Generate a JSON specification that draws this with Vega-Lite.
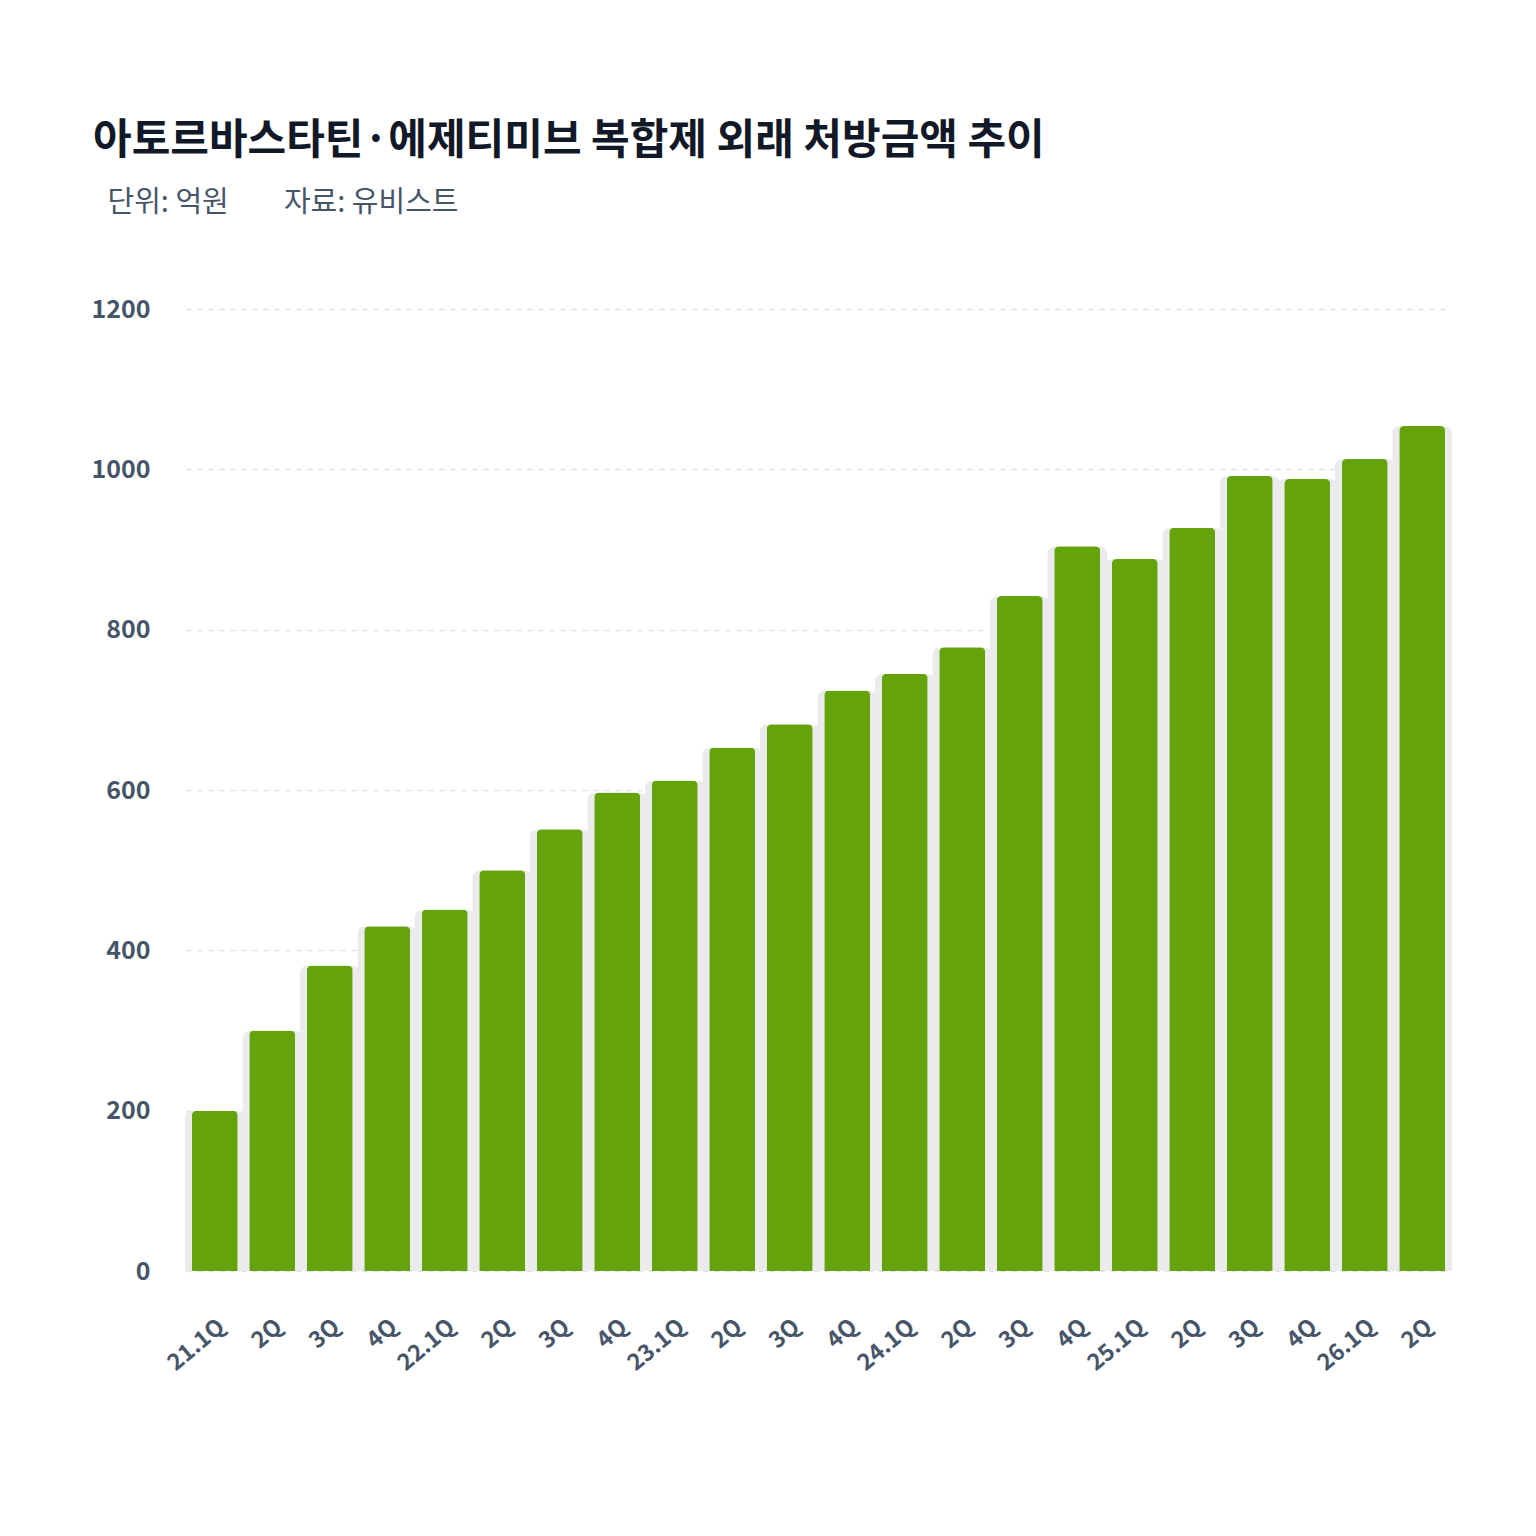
{
  "$schema": "https://vega.github.io/schema/vega-lite/v6.json",
  "width": 1265,
  "height": 962,
  "padding": {"left": 90, "top": 120, "right": 60, "bottom": 20},
  "background": "#ffffff",
  "title": {
    "text": "아토르바스타틴·에제티미브 복합제 외래 처방금액 추이",
    "subtitle": "\u200b\u2002단위: 억원\u3000\u2002\u2009\u2009자료: 유비스트",
    "anchor": "start",
    "frame": "bounds",
    "font": "Noto Sans CJK KR",
    "fontSize": 42,
    "fontWeight": "bold",
    "color": "#111827",
    "subtitleFont": "Noto Sans CJK KR",
    "subtitleFontSize": 29,
    "subtitleColor": "#475569",
    "subtitlePadding": 26,
    "offset": 78,
    "dx": 2
  },
  "data": {
    "values": [
      {"q": "21.1Q", "v": 200},
      {"q": "2Q ", "v": 300},
      {"q": "3Q ", "v": 381},
      {"q": "4Q ", "v": 430},
      {"q": "22.1Q", "v": 451},
      {"q": "2Q  ", "v": 500},
      {"q": "3Q  ", "v": 551},
      {"q": "4Q  ", "v": 597},
      {"q": "23.1Q", "v": 612},
      {"q": "2Q   ", "v": 653},
      {"q": "3Q   ", "v": 682},
      {"q": "4Q   ", "v": 724},
      {"q": "24.1Q", "v": 745},
      {"q": "2Q    ", "v": 778},
      {"q": "3Q    ", "v": 842},
      {"q": "4Q    ", "v": 904},
      {"q": "25.1Q", "v": 888},
      {"q": "2Q     ", "v": 927},
      {"q": "3Q     ", "v": 992},
      {"q": "4Q     ", "v": 988},
      {"q": "26.1Q", "v": 1013},
      {"q": "2Q      ", "v": 1054}
    ]
  },
  "encoding": {
    "x": {
      "field": "q",
      "type": "nominal",
      "sort": null,
      "title": null,
      "scale": {"paddingInner": 0.2, "paddingOuter": 0.1},
      "axis": {
        "labelAngle": -40,
        "labelFont": "Noto Sans CJK KR",
        "labelFontSize": 23,
        "labelFontWeight": "bold",
        "labelColor": "#475569",
        "labelPadding": 44,
        "ticks": false,
        "domain": false,
        "grid": false
      }
    },
    "y": {
      "field": "v",
      "type": "quantitative",
      "title": null,
      "scale": {"domain": [0, 1200]},
      "axis": {
        "values": [0, 200, 400, 600, 800, 1000, 1200],
        "format": "d",
        "labelFont": "Noto Sans CJK KR",
        "labelFontSize": 25,
        "labelFontWeight": "bold",
        "labelColor": "#475569",
        "labelPadding": 36,
        "ticks": false,
        "domain": false,
        "grid": true,
        "gridColor": "#dde2ea",
        "gridDash": [5, 6],
        "gridWidth": 1.5
      }
    }
  },
  "layer": [
    {
      "mark": {"type": "bar", "width": 60, "color": "#ebebeb", "cornerRadiusTopLeft": 8, "cornerRadiusTopRight": 8}
    },
    {
      "mark": {"type": "bar", "color": "#65a30d", "cornerRadiusTopLeft": 5, "cornerRadiusTopRight": 5}
    }
  ],
  "config": {"view": {"stroke": null}}
}
